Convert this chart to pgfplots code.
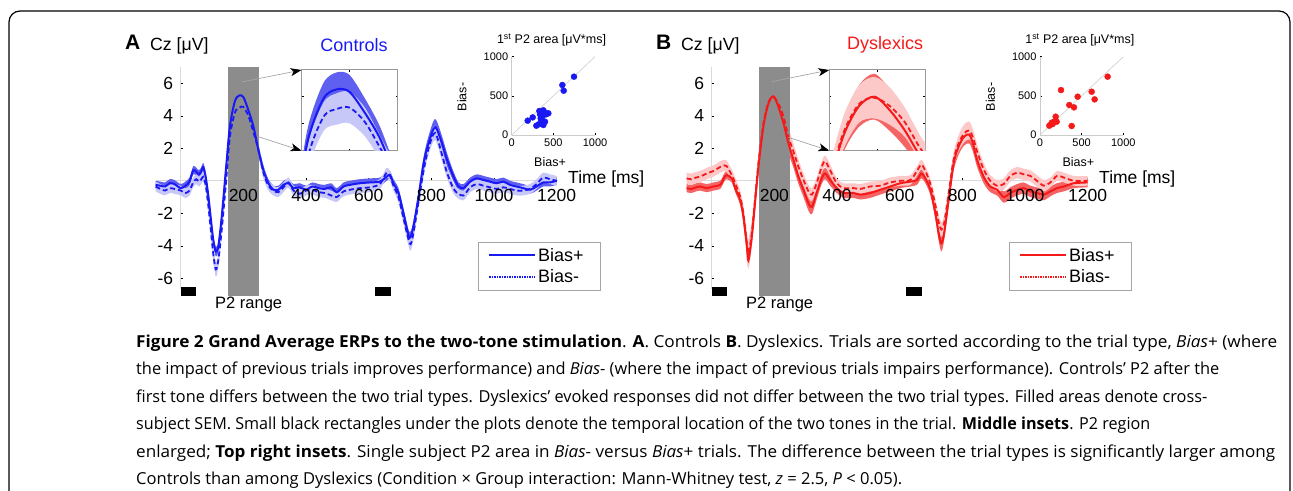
\documentclass[border=0pt]{standalone}
\usepackage{pgfplots}
\pgfplotsset{compat=1.18}
\usepackage{pgfplotstable}
\usepgfplotslibrary{fillbetween}
\usetikzlibrary{arrows.meta}
\usepackage{graphicx}
\usepackage{fontspec}
\setmainfont{Liberation Sans}
\newfontfamily\capfont{Open Sans}

\definecolor{cblue}{RGB}{25,25,245}
\definecolor{cbandD}{RGB}{95,95,240}
\definecolor{cbandL}{RGB}{200,200,248}
\definecolor{cred}{RGB}{245,25,25}
\definecolor{rbandD}{RGB}{245,100,100}
\definecolor{rbandL}{RGB}{252,200,200}
\definecolor{p2gray}{RGB}{140,140,140}

% t: time (ms); p/ps: Bias+ mean/SEM; m/ms: Bias- mean/SEM
\pgfplotstableread{
t p ps m ms
-80 -0.25 0.25 -0.35 0.3
-65 -0.3 0.25 -0.5 0.3
-50 -0.35 0.25 -0.6 0.3
-35 -0.15 0.25 -0.45 0.3
-20 -0.2 0.25 -0.5 0.3
0 -0.45 0.25 -0.6 0.3
15 -0.3 0.25 -0.75 0.3
28 -0.05 0.25 -0.6 0.3
40 0.65 0.25 -0.1 0.3
50 0.55 0.25 0.1 0.3
58 0.4 0.25 -0.05 0.3
66 0.6 0.25 0.1 0.3
72 0.85 0.25 0.25 0.3
80 0.2 0.3 -0.3 0.35
88 -0.9 0.3 -1.5 0.35
96 -2.3 0.3 -3.0 0.4
104 -3.65 0.3 -4.5 0.45
112 -4.35 0.3 -5.45 0.45
120 -4.05 0.3 -4.9 0.45
131 -2.2 0.35 -3.0 0.4
145 0.85 0.4 0.0 0.4
157 3.35 0.5 2.7 0.5
173 4.9 0.6 4.2 0.55
187 5.25 0.65 4.5 0.6
200 5.15 0.65 4.55 0.6
216 4.35 0.55 4.0 0.55
232 3.35 0.45 3.0 0.45
248 1.9 0.35 1.9 0.4
264 0.65 0.3 0.5 0.35
280 -0.15 0.25 -0.3 0.3
296 -0.55 0.25 -0.6 0.3
312 -0.55 0.25 -0.7 0.3
328 -0.25 0.25 -0.4 0.3
344 -0.15 0.25 -0.1 0.3
360 -0.45 0.25 -0.6 0.3
380 -0.4 0.25 -0.8 0.3
400 -0.55 0.25 -0.6 0.3
420 -0.35 0.25 -0.55 0.3
440 -0.45 0.25 -0.7 0.3
460 -0.5 0.25 -0.75 0.3
480 -0.4 0.25 -0.9 0.3
498 -0.7 0.25 -1.0 0.3
520 -0.35 0.25 -0.65 0.3
540 -0.25 0.25 -0.55 0.3
572 -0.15 0.25 -0.45 0.3
604 -0.1 0.25 -0.4 0.3
636 -0.05 0.25 -0.2 0.3
657 0.25 0.25 0.5 0.3
668 0.35 0.25 0.3 0.3
679 -0.15 0.25 -0.3 0.3
695 -0.75 0.3 -1.0 0.35
711 -2.0 0.3 -2.3 0.35
727 -3.35 0.35 -3.6 0.4
734 -3.45 0.35 -3.9 0.4
743 -2.8 0.35 -3.2 0.4
759 -1.0 0.35 -1.3 0.4
775 1.05 0.4 0.6 0.4
791 2.3 0.45 2.0 0.4
812 3.3 0.5 2.95 0.45
834 2.3 0.45 1.6 0.4
850 1.3 0.4 0.5 0.35
871 0.25 0.3 -0.5 0.3
887 -0.35 0.25 -0.8 0.3
903 -0.45 0.25 -0.9 0.3
924 -0.05 0.25 -0.4 0.3
945 0.15 0.25 -0.2 0.3
966 0.05 0.25 -0.3 0.3
987 -0.05 0.25 -0.4 0.3
1008 -0.15 0.25 -0.5 0.3
1030 -0.05 0.25 -0.4 0.3
1051 -0.25 0.25 -0.5 0.3
1072 -0.35 0.25 -0.6 0.3
1093 -0.45 0.25 -0.6 0.3
1115 -0.55 0.25 -0.5 0.3
1136 -0.35 0.25 -0.2 0.3
1157 -0.1 0.25 0.2 0.3
1178 -0.1 0.25 0.1 0.3
1200 0.0 0.25 0.0 0.3
}\ctrl

\pgfplotstableread{
t p ps m ms
-80 -0.45 0.25 0.15 0.35
-65 -0.5 0.25 0.1 0.35
-50 -0.4 0.25 0.2 0.35
-37 -0.35 0.25 0.25 0.35
-16 -0.45 0.25 0.45 0.35
5 -0.35 0.25 0.6 0.35
27 -0.25 0.25 0.85 0.35
40 0.2 0.25 0.95 0.35
48 0.35 0.25 0.9 0.35
64 0.15 0.25 0.35 0.35
75 -0.45 0.25 -0.15 0.35
91 -1.2 0.3 -1.0 0.4
101 -2.2 0.35 -2.0 0.5
112 -4.0 0.4 -3.8 0.7
117 -4.9 0.45 -4.5 0.9
128 -3.45 0.45 -3.2 0.8
138 -1.4 0.45 -1.2 0.6
149 0.85 0.6 1.05 0.6
165 3.35 0.8 3.5 0.8
181 4.75 1.0 4.85 0.9
197 5.2 1.1 5.15 1.0
213 4.55 1.0 4.75 0.9
229 3.55 0.8 3.95 0.7
245 2.3 0.6 2.7 0.6
261 1.3 0.5 1.8 0.5
277 0.25 0.45 0.85 0.45
293 -0.55 0.45 0.05 0.4
309 -1.4 0.45 -0.65 0.4
320 -1.6 0.45 -0.85 0.4
335 -0.75 0.4 -0.15 0.35
351 0.15 0.35 0.85 0.35
362 0.45 0.35 1.2 0.35
378 0.05 0.35 0.65 0.35
399 -0.45 0.3 -0.15 0.3
421 -0.75 0.3 -0.45 0.3
453 -0.75 0.3 -0.45 0.3
474 -0.85 0.3 -0.5 0.3
506 -0.75 0.3 -0.35 0.3
538 -0.55 0.3 -0.3 0.3
570 -0.35 0.3 -0.1 0.3
602 -0.15 0.3 0.0 0.3
634 -0.05 0.3 0.05 0.3
655 0.05 0.3 0.6 0.3
669 0.45 0.3 1.0 0.3
682 0.15 0.3 0.6 0.3
698 -0.55 0.35 -0.2 0.35
714 -2.0 0.4 -1.5 0.4
724 -3.2 0.45 -2.5 0.45
733 -3.85 0.5 -3.0 0.45
742 -3.2 0.45 -2.6 0.45
756 -1.2 0.4 -0.8 0.4
772 1.05 0.45 1.3 0.45
788 2.1 0.5 2.3 0.5
805 2.7 0.55 2.9 0.55
822 2.85 0.55 3.1 0.55
835 2.2 0.5 2.6 0.5
847 1.3 0.45 1.8 0.45
868 0.25 0.4 0.7 0.4
889 -0.35 0.35 0.0 0.35
911 -0.55 0.35 -0.3 0.35
932 -1.0 0.35 -0.2 0.35
953 -0.75 0.35 0.3 0.35
975 -0.55 0.35 0.5 0.35
996 -0.45 0.35 0.4 0.35
1017 -0.65 0.35 0.3 0.35
1038 -0.75 0.35 0.0 0.35
1060 -0.85 0.35 -0.3 0.35
1081 -0.65 0.3 -0.1 0.3
1102 -0.45 0.3 0.3 0.3
1124 -0.35 0.3 0.2 0.3
1156 -0.15 0.3 0.0 0.3
1200 -0.1 0.3 0.0 0.3
}\dys

% single subject 1st P2 area (Bias+, Bias-)
\pgfplotstableread{
x y
192 183
252 225
296 119
324 136
332 306
340 264
348 213
355 180
360 149
370 240
380 128
380 315
395 290
400 170
412 264
440 277
608 638
624 566
748 745
}\scatA

\pgfplotstableread{
x y
812 745
252 574
452 489
620 553
656 455
352 383
408 353
380 115
188 234
172 170
140 157
112 119
152 140
200 170
}\scatB

\newcommand\erpdata[5]{%
  \addplot[draw=none, smooth, forget plot, name path=#5pu] table[x=t, y expr=\thisrow{p}+\thisrow{ps}] {#1};
  \addplot[draw=none, smooth, forget plot, name path=#5pl] table[x=t, y expr=\thisrow{p}-\thisrow{ps}] {#1};
  \addplot[draw=none, smooth, forget plot, name path=#5mu] table[x=t, y expr=\thisrow{m}+\thisrow{ms}] {#1};
  \addplot[draw=none, smooth, forget plot, name path=#5ml] table[x=t, y expr=\thisrow{m}-\thisrow{ms}] {#1};
  \addplot[fill=#3, draw=none, forget plot] fill between[of=#5pu and #5pl];
  \addplot[fill=#4, draw=none, forget plot] fill between[of=#5mu and #5ml];
  \addplot[#2, line width=2pt, smooth, forget plot] table[x=t, y=p] {#1};
  \addplot[#2, line width=1.8pt, smooth, dash pattern=on 5pt off 3pt, forget plot] table[x=t, y=m] {#1};
}

\pgfplotsset{
  erp/.style={
    scale only axis, width=402.6pt, height=221.8pt,
    xmin=-80, xmax=1205, ymin=-6.65, ymax=7,
    anchor=south west, axis lines=middle, clip=false, axis on top,
    axis line style={draw=black!15, line width=0.8pt, -},
    xtick={200,400,...,1200}, ytick={-6,-4,-2,2,4,6},
    tick style={black, line width=0.6pt}, major tick length=2.5pt,
    tick align=inside,
    ticklabel style={font=\fontsize{17.5}{18}\selectfont},
    xticklabel style={yshift=-4.5pt},
    yticklabel style={xshift=-4pt},
    /pgf/number format/assume math mode=true,
    /pgf/number format/1000 sep={},
    legend style={at={(0.8,0.2125)}, anchor=north west, draw=black!35,
      line width=0.6pt, font=\fontsize{18}{20}\selectfont,
      inner xsep=10pt, inner ysep=4pt, row sep=3pt,
      nodes={text width=50pt}},
    legend cell align=left,
    legend image code/.code={\draw[##1] (0pt,0pt) -- (46pt,0pt);},
  },
  zoombox/.style={
    scale only axis, width=96pt, height=81pt, anchor=south west,
    xmin=150, xmax=250,
    axis line style={black!40, line width=0.6pt},
    xtick={150,200,250}, xticklabels={}, yticklabels={},
    tick style={black, line width=0.6pt}, major tick length=2pt,
  },
  p2area/.style={
    scale only axis, width=83.3pt, height=78.3pt, anchor=south west,
    xmin=0, xmax=1000, ymin=0, ymax=1000,
    axis x line=bottom, axis y line=left, clip=false,
    axis line style={black!20, line width=0.6pt, -},
    xtick={0,500,1000}, ytick={0,500,1000},
    tick style={black, line width=0.6pt}, major tick length=2pt,
    tick align=inside,
    ticklabel style={font=\fontsize{11}{12}\selectfont},
    /pgf/number format/assume math mode=true,
    /pgf/number format/1000 sep={},
  },
}

\newcommand\capline[3]{\node[anchor=base west, inner sep=0pt] at (136,#1)
  {\resizebox{#2pt}{\height}{\capfont\fontsize{16.5}{19}\selectfont #3}};}

\begin{document}
\begin{tikzpicture}
% ---------- panel A ----------
\begin{axis}[erp, at={(155.64pt,-288.86pt)}]
  \fill[p2gray] (axis cs:150,-7.07) rectangle (axis cs:250,7.0);
  \erpdata{\ctrl}{cblue}{cbandD}{cbandL}{a}
  \fill[black] (axis cs:0,-6.54) rectangle (axis cs:50,-7.07);
  \fill[black] (axis cs:620,-6.54) rectangle (axis cs:670,-7.07);
  \addlegendimage{cblue, line width=2pt}
  \addlegendentry{Bias+}
  \addlegendimage{cblue, line width=1.6pt, dash pattern=on 1.5pt off 1pt}
  \addlegendentry{Bias-}
\end{axis}
\begin{axis}[zoombox, at={(301.5pt,-150.7pt)}, ymin=2.9, ymax=6.0,
  ytick={2.9,3.9333,4.9667,6.0}]
  \erpdata{\ctrl}{cblue}{cbandD}{cbandL}{za}
\end{axis}
\begin{axis}[p2area, at={(511.7pt,-135pt)}]
  \draw[black!20, line width=0.6pt] (axis cs:0,0) -- (axis cs:1000,1000);
  \addplot[only marks, mark=*, mark size=3pt, cblue] table {\scatA};
\end{axis}

% ---------- panel B ----------
\begin{axis}[erp, at={(686.64pt,-288.86pt)}]
  \fill[p2gray] (axis cs:150,-7.07) rectangle (axis cs:250,7.0);
  \erpdata{\dys}{cred}{rbandD}{rbandL}{b}
  \fill[black] (axis cs:0,-6.54) rectangle (axis cs:50,-7.07);
  \fill[black] (axis cs:620,-6.54) rectangle (axis cs:670,-7.07);
  \addlegendimage{cred, line width=2pt}
  \addlegendentry{Bias+}
  \addlegendimage{cred, line width=1.6pt, dash pattern=on 1.5pt off 1pt}
  \addlegendentry{Bias-}
\end{axis}
\begin{axis}[zoombox, at={(829.3pt,-150.7pt)}, ymin=2.6, ymax=6.5,
  ytick={2.6,3.9,5.2,6.5}]
  \erpdata{\dys}{cred}{rbandD}{rbandL}{zb}
\end{axis}
\begin{axis}[p2area, at={(1040pt,-135pt)}]
  \draw[black!20, line width=0.6pt] (axis cs:0,0) -- (axis cs:1000,1000);
  \addplot[only marks, mark=*, mark size=3pt, cred] table {\scatB};
\end{axis}

\begin{scope}[x=1pt, y=-1pt]
\path (0,0) rectangle (1293,490);
\begin{pgfinterruptboundingbox}
\draw[line width=1.2pt, rounded corners=11pt] (9,560) -- (9,11) -- (1290,11) -- (1290,560);
\end{pgfinterruptboundingbox}

% ---------- texts and zoom arrows ----------
\foreach \dx/\lab/\col/\grp in {0/A/cblue/Controls, 531/B/cred/Dyslexics}{
  \node[font=\bfseries\fontsize{21}{21}\selectfont] at (132.8+\dx,42.3) {\lab};
  \node[anchor=west, inner sep=0pt, font=\fontsize{17.7}{18}\selectfont] at (150+\dx,45.7) {Cz [μV]};
  \node[\col, font=\fontsize{18}{18}\selectfont] at (354+\dx,45) {\grp};
  \node[font=\fontsize{16.5}{17}\selectfont] at (248.7+\dx,304.3) {P2 range};
  \node[anchor=west, inner sep=0pt, font=\fontsize{17.5}{18}\selectfont] at (568+\dx,179) {Time [ms]};
}
\foreach \dx in {0,528.3}{
  \node[font=\fontsize{12.5}{13}\selectfont] at (551.5+\dx,40) {1\textsuperscript{st} P2 area [μV*ms]};
  \node[font=\fontsize{12.5}{13}\selectfont] at (550+\dx,161.7) {Bias+};
  \node[font=\fontsize{12.5}{13}\selectfont, rotate=90] at (462+\dx,97) {Bias-};
}
\draw[black!35, line width=0.7pt, -{Stealth[length=11pt, width=8pt, inset=3pt, black]}] (241.7,82) -- (301.5,70);
\draw[black!35, line width=0.7pt, -{Stealth[length=11pt, width=8pt, inset=3pt, black]}] (258.3,136.7) -- (301.5,150.7);
\draw[black!35, line width=0.7pt, -{Stealth[length=11pt, width=8pt, inset=3pt, black]}] (771.7,81.7) -- (829.3,70);
\draw[black!35, line width=0.7pt, -{Stealth[length=11pt, width=8pt, inset=3pt, black]}] (788.3,137.3) -- (829.3,150.7);

% ---------- caption ----------
\capline{347.5}{1141}{{\bfseries Figure 2 Grand Average ERPs to the two-tone stimulation}. {\bfseries A}. Controls {\bfseries B}. Dyslexics. Trials are sorted according to the trial type, {\itshape Bias}+ (where}
\capline{374.9}{1083}{the impact of previous trials improves performance) and {\itshape Bias}- (where the impact of previous trials impairs performance). Controls’ P2 after the}
\capline{402.3}{1071}{first tone differs between the two trial types. Dyslexics’ evoked responses did not differ between the two trial types. Filled areas denote cross-}
\capline{429.7}{1014}{subject SEM. Small black rectangles under the plots denote the temporal location of the two tones in the trial. {\bfseries Middle insets}. P2 region}
\capline{457.1}{1139}{enlarged; {\bfseries Top right insets}. Single subject P2 area in {\itshape Bias}- versus {\itshape Bias}+ trials. The difference between the trial types is significantly larger among}
\capline{484.5}{766}{Controls than among Dyslexics (Condition × Group interaction: Mann-Whitney test, {\itshape z} = 2.5, {\itshape P} < 0.05).}
\end{scope}
\end{tikzpicture}
\end{document}
